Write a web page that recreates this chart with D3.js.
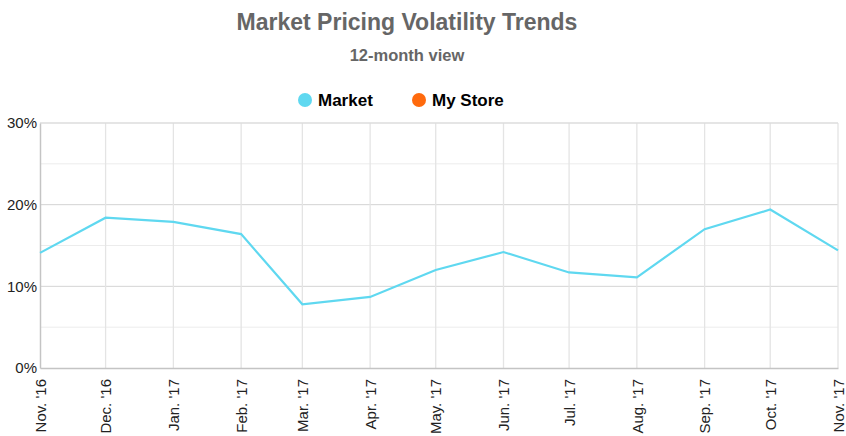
<!DOCTYPE html>
<html>
<head>
<meta charset="utf-8">
<script src="https://cdnjs.cloudflare.com/ajax/libs/d3/7.8.5/d3.min.js"></script>
<style>
    body { margin: 0; background: #fff; font-family: "Liberation Sans", Arial, sans-serif; }
    svg { display: block; }
</style>
</head>
<body>
<svg id="chart" width="846" height="436"></svg>
<script>
// chart data
const months = ["2016-11", "2016-12", "2017-01", "2017-02", "2017-03", "2017-04", "2017-05",
                "2017-06", "2017-07", "2017-08", "2017-09", "2017-10", "2017-11"];
const marketValues = [14.1, 18.4, 17.9, 16.4, 7.8, 8.7, 12.0, 14.2, 11.7, 11.1, 17.0, 19.4, 14.4];
const myStoreValues = [];
const yTicks = [0, 10, 20, 30];
const yMinorTicks = [5, 15, 25];
const seriesNames = ["Market", "My Store"];
const seriesColors = ["#5fd8f0", "#ff6a0d"];

const monthNames = ["Jan.", "Feb.", "Mar.", "Apr.", "May.", "Jun.", "Jul.", "Aug.", "Sep.", "Oct.", "Nov.", "Dec."];
const parse = d3.timeParse("%Y-%m");
const dates = months.map(parse);

const svg = d3.select("#chart");
const margin = { left: 40, right: 8, top: 123, bottom: 68 };
const width = 846, height = 436;

const x = d3.scaleTime()
    .domain(d3.extent(dates))
    .range([margin.left, width - margin.right]);

const y = d3.scaleLinear()
    .domain([0, 30])
    .range([height - margin.bottom, margin.top]);

// title
svg.append("text")
    .attr("x", 407).attr("y", 30)
    .attr("text-anchor", "middle")
    .attr("font-size", "23px")
    .attr("font-weight", "bold")
    .attr("fill", "#666")
    .text("Market Pricing Volatility Trends");

svg.append("text")
    .attr("x", 407).attr("y", 61)
    .attr("text-anchor", "middle")
    .attr("font-size", "16.5px")
    .attr("font-weight", "bold")
    .attr("fill", "#666")
    .text("12-month view");

// legend
const legendX = [305, 419];
const legend = svg.append("g");
seriesNames.forEach((name, i) => {
    legend.append("circle")
        .attr("cx", legendX[i]).attr("cy", 100).attr("r", 7)
        .attr("fill", seriesColors[i]);
    legend.append("text")
        .attr("x", legendX[i] + 13).attr("y", 106)
        .attr("font-size", "17px")
        .attr("font-weight", "bold")
        .attr("fill", "#000")
        .text(name);
});

// grid
const grid = svg.append("g");
grid.selectAll(".minor")
    .data(yMinorTicks)
    .enter().append("line")
    .attr("x1", margin.left).attr("x2", width - margin.right)
    .attr("y1", d => y(d)).attr("y2", d => y(d))
    .attr("stroke", "#ececec").attr("stroke-width", 1);

grid.selectAll(".major")
    .data(yTicks.slice(1, -1))
    .enter().append("line")
    .attr("x1", margin.left).attr("x2", width - margin.right)
    .attr("y1", d => y(d)).attr("y2", d => y(d))
    .attr("stroke", "#d4d4d4").attr("stroke-width", 1);

grid.selectAll(".vert")
    .data(dates.slice(1))
    .enter().append("line")
    .attr("x1", d => x(d)).attr("x2", d => x(d))
    .attr("y1", margin.top).attr("y2", height - margin.bottom)
    .attr("stroke", "#e4e4e4").attr("stroke-width", 1.3);

// top border
grid.append("line")
    .attr("x1", margin.left).attr("x2", width - margin.right)
    .attr("y1", margin.top).attr("y2", margin.top)
    .attr("stroke", "#dcdcdc").attr("stroke-width", 1.3);

// y axis
const yAxis = svg.append("g")
    .attr("transform", `translate(${margin.left},0)`)
    .call(d3.axisLeft(y).tickValues(yTicks).tickSize(0).tickPadding(3).tickFormat(d => d + "%"));
yAxis.select(".domain").attr("stroke", "#c4c4c4").attr("stroke-width", 1.5);
yAxis.selectAll("text")
    .attr("font-family", "Liberation Sans, Arial, sans-serif")
    .attr("font-size", "15px")
    .attr("fill", "#222");

// x axis
const xAxis = svg.append("g")
    .attr("transform", `translate(0,${height - margin.bottom})`)
    .call(d3.axisBottom(x).tickValues(dates).tickSize(0)
        .tickFormat(d => monthNames[d.getMonth()] + " '" + String(d.getFullYear()).slice(2)));
xAxis.select(".domain").attr("stroke", "#c4c4c4").attr("stroke-width", 1.5);
xAxis.selectAll("text")
    .attr("font-family", "Liberation Sans, Arial, sans-serif")
    .attr("font-size", "15px")
    .attr("fill", "#222")
    .attr("text-anchor", "end")
    .attr("transform", "rotate(-90)")
    .attr("x", -11)
    .attr("y", 0)
    .attr("dy", "0.35em");

// lines
const line = d3.line()
    .x((d, i) => x(dates[i]))
    .y(d => y(d));

svg.append("path")
    .datum(marketValues)
    .attr("fill", "none")
    .attr("stroke", seriesColors[0])
    .attr("stroke-width", 2.2)
    .attr("d", line);

if (myStoreValues.length) {
    svg.append("path")
        .datum(myStoreValues)
        .attr("fill", "none")
        .attr("stroke", seriesColors[1])
        .attr("stroke-width", 2.2)
        .attr("d", line);
}
</script>
</body>
</html>
